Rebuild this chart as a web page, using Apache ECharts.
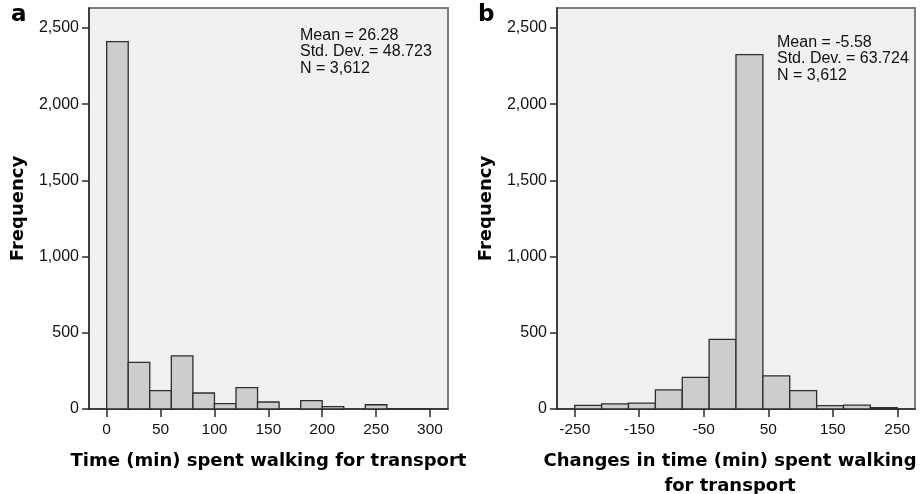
<!DOCTYPE html>
<html>
<head>
<meta charset="utf-8">
<script src="https://cdn.jsdelivr.net/npm/echarts@6/dist/echarts.min.js"></script>
<style>
html,body{margin:0;padding:0;background:#fff;}
#chart{width:923px;height:494px;}
</style>
</head>
<body>
<div id="chart"></div>
<script>
// ---- Data ----
// Panel a: time (min) spent walking for transport, bins of 20 min
const binStartsA = [0, 20, 40, 60, 80, 100, 120, 140, 160, 180, 200, 220, 240, 260, 280];
const binWidthA = 20;
const countsA = [2410, 306, 120, 348, 105, 35, 140, 46, 0, 55, 15, 0, 28, 2, 2];
const xTicksA = [0, 50, 100, 150, 200, 250, 300];

// Panel b: changes in time (min), 12 bins from -250 to 250
const binStartsB = [-250, -208.33, -166.67, -125, -83.33, -41.67, 0, 41.67, 83.33, 125, 166.67, 208.33];
const binWidthB = 41.67;
const countsB = [24, 33, 39, 125, 208, 457, 2325, 217, 120, 22, 26, 9];
const xTicksB = [-250, -150, -50, 50, 150, 250];

const yTicks = [0, 500, 1000, 1500, 2000, 2500];

const statsA = ['Mean = 26.28', 'Std. Dev. = 48.723', 'N = 3,612'];
const statsB = ['Mean = -5.58', 'Std. Dev. = 63.724', 'N = 3,612'];

const titleXA = 'Time (min) spent walking for transport';
const titleXB = 'Changes in time (min) spent walking\nfor transport';
const titleY = 'Frequency';

// ---- Build ----
function binData(starts, width, counts) {
  return starts.map((s, i) => [s, s + width, counts[i]]);
}
function renderBar(params, api) {
  const y = api.value(2);
  if (!y) return null;
  const p0 = api.coord([api.value(0), 0]);
  const p1 = api.coord([api.value(1), y]);
  return {
    type: 'rect',
    shape: { x: p0[0], y: p1[1], width: p1[0] - p0[0], height: p0[1] - p1[1] },
    style: { fill: '#cdcdcd', stroke: '#2e2e2e', lineWidth: 1.3 }
  };
}
const fmtNum = v => v.toLocaleString('en-US');
const fontFam = 'Liberation Sans, Arial, sans-serif';
const titleFont = { color: '#000', fontSize: 18, fontWeight: 'bold', fontFamily: 'DejaVu Sans, sans-serif' };

function xAxis(gridIndex, min, max, ticks, name, pad) {
  return {
    type: 'value', gridIndex, min, max,
    name, nameLocation: 'middle', nameGap: 40,
    nameTextStyle: Object.assign({ lineHeight: 25, padding: pad }, titleFont),
    axisLine: { show: true, onZero: false, lineStyle: { color: '#2a2a2a', width: 1.5 } },
    axisTick: { show: true, length: 8, customValues: ticks, lineStyle: { color: '#2a2a2a', width: 1.5 } },
    axisLabel: { customValues: ticks, margin: 13, formatter: fmtNum, color: '#111', fontSize: 15.5, fontFamily: fontFam },
    splitLine: { show: false }
  };
}
function yAxis(gridIndex) {
  return {
    type: 'value', gridIndex, min: 0, max: 2631,
    name: titleY, nameLocation: 'middle', nameGap: 62, nameRotate: 90,
    nameTextStyle: titleFont,
    axisLine: { show: true, onZero: false, lineStyle: { color: '#2a2a2a', width: 1.5 } },
    axisTick: { show: true, length: 7, customValues: yTicks, lineStyle: { color: '#2a2a2a', width: 1.5 } },
    axisLabel: { customValues: yTicks, margin: 10, formatter: fmtNum, color: '#111', fontSize: 16, fontFamily: fontFam },
    splitLine: { show: false }
  };
}
function statText(x, y, lines) {
  return {
    type: 'text', left: x, top: y,
    style: { text: lines.join('\n'), fill: '#111', font: '16px "Liberation Sans", Arial, sans-serif', lineHeight: 16.5 }
  };
}

const gridBase = { top: 8, height: 401, show: true, backgroundColor: '#f0f0f0', borderColor: '#7c7c7c', borderWidth: 2, containLabel: false, outerBoundsMode: 'none' };

const chart = echarts.init(document.getElementById('chart'), null, { renderer: 'canvas' });
chart.setOption({
  animation: false,
  backgroundColor: '#fff',
  grid: [
    Object.assign({ left: 89, width: 359 }, gridBase),
    Object.assign({ left: 557, width: 358 }, gridBase)
  ],
  xAxis: [
    xAxis(0, -16.4, 316.7, xTicksA, titleXA, [0, 0, 0, 0]),
    xAxis(1, -277.5, 277.5, xTicksB, titleXB, [0, 12, 0, 0])
  ],
  yAxis: [yAxis(0), yAxis(1)],
  series: [
    { type: 'custom', xAxisIndex: 0, yAxisIndex: 0, renderItem: renderBar, encode: { x: [0, 1], y: 2 }, data: binData(binStartsA, binWidthA, countsA) },
    { type: 'custom', xAxisIndex: 1, yAxisIndex: 1, renderItem: renderBar, encode: { x: [0, 1], y: 2 }, data: binData(binStartsB, binWidthB, countsB) }
  ],
  graphic: [
    { type: 'text', left: 11, top: 4, style: { text: 'a', fill: '#000', font: 'bold 23px "DejaVu Sans", sans-serif' } },
    { type: 'text', left: 478, top: 4, style: { text: 'b', fill: '#000', font: 'bold 23px "DejaVu Sans", sans-serif' } },
    statText(300, 27, statsA),
    statText(777, 34, statsB)
  ]
});
</script>
</body>
</html>
